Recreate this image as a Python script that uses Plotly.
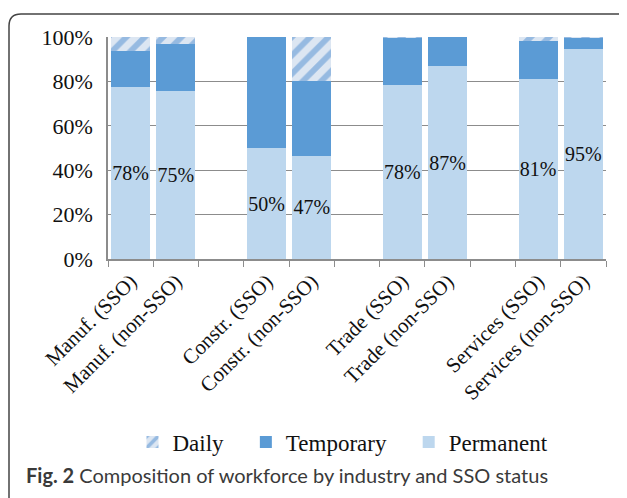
import plotly.graph_objects as go

categories = ["Manuf. (SSO)", "Manuf. (non-SSO)", " ", "Constr. (SSO)", "Constr. (non-SSO)", "  ",
              "Trade (SSO)", "Trade (non-SSO)", "   ", "Services (SSO)", "Services (non-SSO)"]
permanent = [77.6, 75.5, None, 50.0, 46.5, None, 78.2, 86.9, None, 81.0, 94.6]
temporary = [16.0, 21.5, None, 50.0, 33.5, None, 21.5, 13.1, None, 17.0, 5.1]
daily = [6.4, 3.0, None, 0.0, 20.0, None, 0.3, 0.0, None, 2.0, 0.3]
perm_labels = ["78%", "75%", "", "50%", "47%", "", "78%", "87%", "", "81%", "95%"]

SERIF = "Liberation Serif"
W, H = 627, 498
OFF = 8  # page body margin
# target plot area in page pixels: x 108..606, y 37..259
L = 108 - OFF
T = 37 - OFF
R = W - (606 - OFF)
B = H - (259 - OFF)
pw, ph = W - L - R, H - T - B

def px(x):
    return (x - OFF - L) / pw

def py(y):
    return (H - B - (y - OFF)) / ph

SP = "&nbsp;" * 3

fig = go.Figure()
fig.add_trace(go.Bar(x=categories, y=permanent, name="Permanent",
                     marker=dict(color="#BDD7EE", line=dict(width=0)),
                     text=perm_labels, textposition="inside", insidetextanchor="middle",
                     textangle=0, constraintext="none",
                     textfont=dict(family=SERIF, size=20, color="#111")))
fig.add_trace(go.Bar(x=categories, y=temporary, name="Temporary" + SP,
                     marker=dict(color="#5B9BD5", line=dict(width=0))))
fig.add_trace(go.Bar(x=categories, y=daily, name="Daily" + SP,
                     marker=dict(color="#DCE6F2", line=dict(width=0),
                                 pattern=dict(shape="/", fgcolor="#4F8DCF", bgcolor="#DCE6F2",
                                              size=13, solidity=0.45))))

# rounded border frame
x0, y0, r = 9, 14, 12
path = (f"M {px(x0)} {py(H + 20)} L {px(x0)} {py(y0 + r)} "
        f"Q {px(x0)} {py(y0)} {px(x0 + r)} {py(y0)} L {px(W + 20)} {py(y0)}")
fig.add_shape(type="path", path=path, xref="paper", yref="paper",
              line=dict(color="#444", width=1.5))

fig.add_annotation(text="<b>Fig. 2</b> Composition of workforce by industry and SSO status",
                   xref="paper", yref="paper", x=px(24), y=py(475), xanchor="left",
                   yanchor="middle", showarrow=False,
                   font=dict(family="Lato", size=20, color="#3a3a3a"))

fig.update_layout(
    width=W, height=H, barmode="stack", bargap=0.14,
    margin=dict(l=L, r=R, t=T, b=B, autoexpand=False),
    paper_bgcolor="white", plot_bgcolor="white",
    legend=dict(orientation="h", x=px(343), xanchor="center", y=py(442), yanchor="middle",
                traceorder="reversed", font=dict(family=SERIF, size=23, color="#111"),
                itemwidth=30),
    yaxis=dict(range=[0, 100], tickvals=[0, 20, 40, 60, 80, 100],
               ticktext=["0%", "20%", "40%", "60%", "80%", "100%"],
               showgrid=True, gridcolor="#8C8C8C", gridwidth=1,
               showline=True, linecolor="#8C8C8C", linewidth=1.5,
               ticks="", ticklabelstandoff=9, zeroline=False,
               tickfont=dict(family=SERIF, size=22, color="#111")),
    xaxis=dict(type="category", categoryorder="array", categoryarray=categories,
               tickangle=-45, tickson="boundaries", ticks="outside", ticklen=6,
               tickcolor="#8C8C8C", showline=True, linecolor="#8C8C8C", linewidth=1.5,
               tickfont=dict(family=SERIF, size=21, color="#111")),
    showlegend=True,
)

fig.write_html("out.html")
